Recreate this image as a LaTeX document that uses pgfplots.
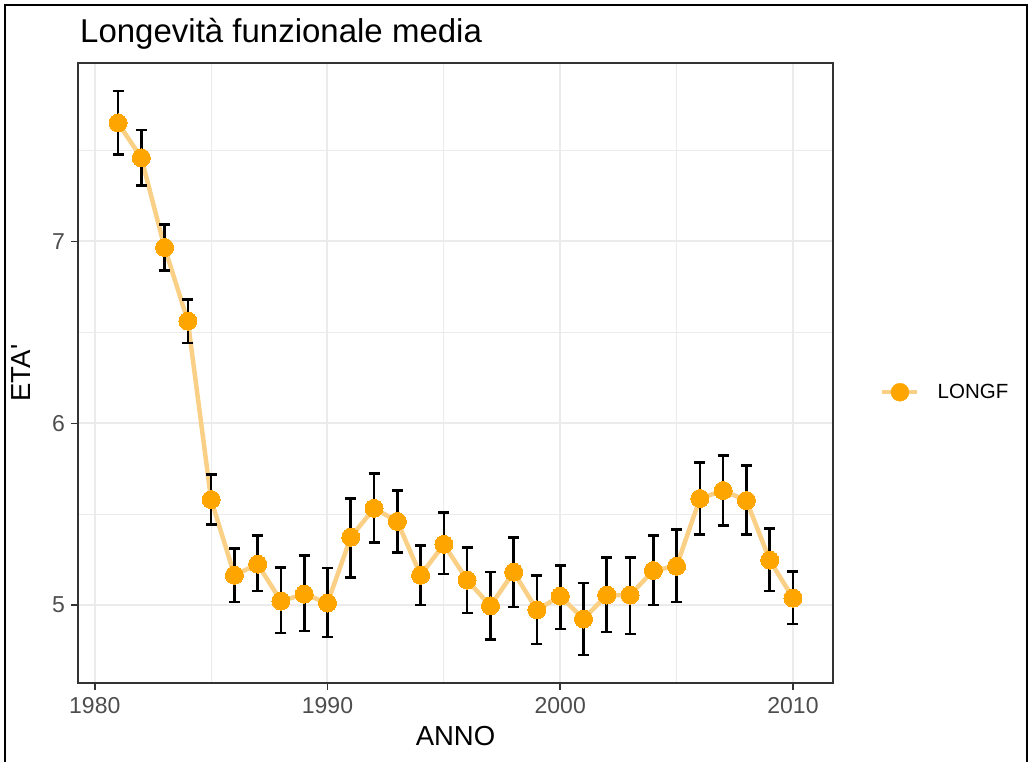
\documentclass[border=0pt]{standalone}
\usepackage{pgfplots}
\pgfplotsset{compat=1.18}
\usepackage{pgfplotstable}
\usepackage{fontspec}
\setmainfont{Liberation Sans}

\definecolor{rorange}{RGB}{255,165,0}
\definecolor{rline}{RGB}{250,208,135}
\definecolor{gray20}{RGB}{51,51,51}
\definecolor{gray30}{RGB}{77,77,77}
\definecolor{gray92}{RGB}{235,235,235}

% anno, media, limiti inferiore e superiore
\pgfplotstableread{
x    y     lo    hi
1981 7.652 7.477 7.827
1982 7.460 7.307 7.614
1983 6.967 6.841 7.093
1984 6.562 6.441 6.682
1985 5.580 5.444 5.718
1986 5.164 5.016 5.312
1987 5.225 5.077 5.384
1988 5.022 4.847 5.208
1989 5.060 4.858 5.274
1990 5.011 4.825 5.203
1991 5.373 5.153 5.586
1992 5.532 5.345 5.723
1993 5.460 5.290 5.630
1994 5.164 5.000 5.329
1995 5.334 5.170 5.510
1996 5.137 4.956 5.318
1997 4.995 4.810 5.181
1998 5.181 4.990 5.373
1999 4.973 4.786 5.164
2000 5.049 4.868 5.219
2001 4.923 4.726 5.121
2002 5.055 4.852 5.263
2003 5.055 4.841 5.263
2004 5.190 5.000 5.384
2005 5.214 5.016 5.416
2006 5.586 5.389 5.784
2007 5.630 5.438 5.822
2008 5.575 5.389 5.767
2009 5.247 5.077 5.422
2010 5.038 4.896 5.186
}\longf

\begin{document}
\begin{tikzpicture}[x=1pt,y=1pt]
\path[use as bounding box] (0,-762) rectangle (1030,0);
\draw[black, line width=2.5pt] (5,-762) -- (5,-5) -- (1027,-5) -- (1027,-762);

\node[anchor=base west, inner sep=0pt] at (80,-43)
  {\fontsize{33pt}{40pt}\selectfont Longevità funzionale media};

\begin{axis}[
  at={(78pt,-683pt)}, anchor=south west,
  scale only axis, width=755pt, height=620pt,
  xmin=1979.28, xmax=2011.72,
  ymin=4.571, ymax=7.982,
  xtick={1980,1990,2000,2010},
  ytick={5,6,7},
  minor xtick={1985,1995,2005},
  minor ytick={5.5,6.5,7.5},
  grid=both,
  major grid style={gray92, line width=2pt},
  minor grid style={gray92, line width=1pt},
  axis line style={gray20, line width=1.5pt},
  tick align=outside, tick pos=left,
  major tick length=7pt, minor tick length=0pt,
  tick style={gray20, line width=1.5pt},
  /pgf/number format/assume math mode=true,
  /pgf/number format/1000 sep={},
  xticklabel style={font=\fontsize{23pt}{27pt}\selectfont, text=gray30,
    inner sep=0pt, anchor=north, yshift=-7pt},
  yticklabel style={font=\fontsize{23pt}{27pt}\selectfont, text=gray30,
    inner sep=0pt, anchor=east, xshift=-6pt},
  xlabel={ANNO},
  ylabel={ETA\textquotesingle},
  xlabel style={font=\fontsize{27.5pt}{32pt}\selectfont,
    at={(axis description cs:0.5,0)}, anchor=base, yshift=-62pt, inner sep=0pt},
  ylabel style={font=\fontsize{27.5pt}{32pt}\selectfont,
    at={(axis description cs:0,0.5)}, anchor=center,
    yshift=57pt, inner sep=0pt},
  legend style={draw=none, fill=none, at={(axis description cs:0,0.469)},
    anchor=west, xshift=802pt, inner sep=0pt,
    font=\fontsize{20.5pt}{24pt}\selectfont,
    nodes={inner sep=0pt}, column sep=0pt},
  legend cell align=left,
]
% linea di collegamento
\addplot[rline, line width=4.5pt, forget plot] table[x=x, y=y] {\longf};
% intervalli
\addplot[draw=none, mark=none, forget plot,
  error bars/.cd, y dir=both, y explicit,
  error bar style={draw=black, line width=2.6pt},
  error mark options={draw=black, rotate=90, mark size=5.5pt, line width=2.6pt}]
  table[x=x, y=y, y error plus expr=\thisrow{hi}-\thisrow{y},
        y error minus expr=\thisrow{y}-\thisrow{lo}] {\longf};
% medie
\addplot[color=rorange, only marks, mark=*, mark size=9pt,
  mark options={fill=rorange, draw=rorange, line width=0pt},
  legend image code/.code={
    \draw[rline, line width=4.5pt] (0pt,0pt) -- (35pt,0pt);
    \fill[rorange] (17.5pt,0pt) circle (9pt);
    \path (55pt,0pt);
  }] table[x=x, y=y] {\longf};
\addlegendentry{LONGF}
\end{axis}
\end{tikzpicture}
\end{document}
